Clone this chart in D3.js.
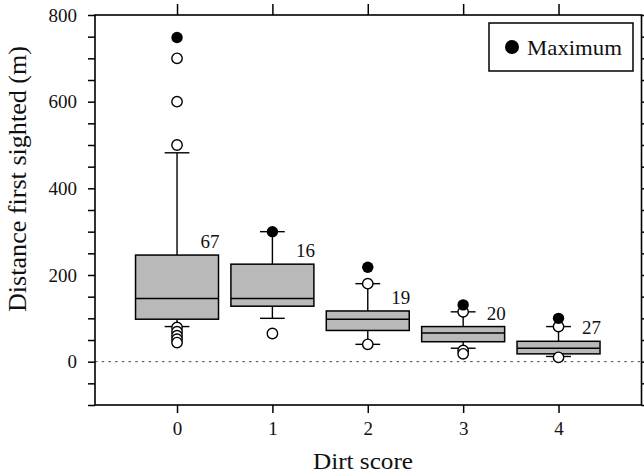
<!DOCTYPE html>
<html>
<head>
<meta charset="utf-8">
<script src="https://cdn.jsdelivr.net/npm/d3@7"></script>
<style>
  html, body { margin: 0; padding: 0; background: #fff; }
  svg { display: block; }
  text { font-family: "Liberation Serif", "Times New Roman", serif; fill: #111; }
</style>
</head>
<body>
<svg id="chart" width="644" height="475"></svg>
<script>
// ---- data ----
const categories  = [0, 1, 2, 3, 4];
const q1          = [98, 128, 72, 46, 18];
const medians     = [146, 146, 98, 66, 31];
const q3          = [246, 225, 117, 81, 47];
const whiskerLow  = [81, 100, 40, 31, 12];
const whiskerHigh = [482, 300, 180, 115, 81];
const outliers    = [
  [500, 600, 700, 79, 69, 60, 52, 44],
  [65],
  [180, 40],
  [115, 26, 18],
  [81, 10]
];
const maxima      = [748, 300, 218, 131, 100];
const sampleSizes = [67, 16, 19, 20, 27];
const yTickValues = [-100, -50, 0, 50, 100, 150, 200, 250, 300, 350, 400, 450, 500, 550, 600, 650, 700, 750, 800];
const yLabelValues = [0, 200, 400, 600, 800];
const xTitle = "Dirt score";
const yTitle = "Distance first sighted (m)";
const legendLabel = "Maximum";

// ---- layout ----
const svg = d3.select("#chart");
const L = 95, R = 641.5, T = 15, B = 405;
const x = d3.scaleLinear().domain([-0.86, 4.87]).range([L, R]);
const y = d3.scaleLinear().domain([-100, 800]).range([B, T]);
const boxHalf = 0.435;   // in category units
const capHalf = 0.13;

// zero reference line
svg.append("line")
  .attr("x1", L).attr("x2", R)
  .attr("y1", y(0)).attr("y2", y(0))
  .attr("stroke", "#444").attr("stroke-width", 1)
  .attr("stroke-dasharray", "2.5,4.2");

// boxes
const g = svg.append("g");
categories.forEach((c, i) => {
  const cx = x(c);
  // whiskers
  g.append("line").attr("x1", cx).attr("x2", cx)
    .attr("y1", y(q3[i])).attr("y2", y(whiskerHigh[i]))
    .attr("stroke", "#000").attr("stroke-width", 1.4);
  g.append("line").attr("x1", cx).attr("x2", cx)
    .attr("y1", y(q1[i])).attr("y2", y(whiskerLow[i]))
    .attr("stroke", "#000").attr("stroke-width", 1.4);
  // caps
  [whiskerHigh[i], whiskerLow[i]].forEach(v => {
    g.append("line")
      .attr("x1", x(c - capHalf)).attr("x2", x(c + capHalf))
      .attr("y1", y(v)).attr("y2", y(v))
      .attr("stroke", "#000").attr("stroke-width", 1.4);
  });
  // box
  g.append("rect")
    .attr("x", x(c - boxHalf)).attr("width", x(c + boxHalf) - x(c - boxHalf))
    .attr("y", y(q3[i])).attr("height", y(q1[i]) - y(q3[i]))
    .attr("fill", "#b9b9b9").attr("stroke", "#000").attr("stroke-width", 1.5);
  // median
  g.append("line")
    .attr("x1", x(c - boxHalf)).attr("x2", x(c + boxHalf))
    .attr("y1", y(medians[i])).attr("y2", y(medians[i]))
    .attr("stroke", "#000").attr("stroke-width", 1.5);
  // sample size
  g.append("text")
    .attr("x", cx + 33).attr("y", y(q3[i]) - 7)
    .attr("text-anchor", "middle")
    .style("font-size", "19px")
    .text(sampleSizes[i]);
});

// open circles (outliers)
categories.forEach((c, i) => {
  g.selectAll(null).data(outliers[i]).enter().append("circle")
    .attr("cx", x(c)).attr("cy", d => y(d)).attr("r", 5.2)
    .attr("fill", "#fff").attr("stroke", "#000").attr("stroke-width", 1.4);
});
// filled circles (maxima)
g.selectAll(".max").data(maxima).enter().append("circle")
  .attr("class", "max")
  .attr("cx", (d, i) => x(categories[i])).attr("cy", d => y(d)).attr("r", 5.7)
  .attr("fill", "#000");

// frame
svg.append("rect")
  .attr("x", L).attr("y", T).attr("width", R - L).attr("height", B - T)
  .attr("fill", "none").attr("stroke", "#000").attr("stroke-width", 1.6);

// axes
function styleAxis(sel) {
  sel.select(".domain").remove();
  sel.selectAll(".tick line").attr("stroke", "#000").attr("stroke-width", 1.5);
  sel.selectAll(".tick text").style("font-size", "19px").attr("fill", "#111")
    .style("font-family", '"Liberation Serif", serif');
}
svg.append("g").attr("transform", `translate(${L},0)`)
  .call(d3.axisLeft(y).tickValues(yTickValues).tickSize(7).tickPadding(11)
    .tickFormat(d => yLabelValues.includes(d) ? d : ""))
  .call(styleAxis);
svg.append("g").attr("transform", `translate(${R},0)`)
  .call(d3.axisRight(y).tickValues(yTickValues).tickSize(7).tickFormat(""))
  .call(styleAxis);
svg.append("g").attr("transform", `translate(0,${B})`)
  .call(d3.axisBottom(x).tickValues(categories).tickSize(8).tickPadding(8.5)
    .tickFormat(d3.format("d")))
  .call(styleAxis);
svg.append("g").attr("transform", `translate(0,${T})`)
  .call(d3.axisTop(x).tickValues(categories).tickSize(11).tickFormat(""))
  .call(styleAxis);

// titles
svg.append("text")
  .attr("x", 363).attr("y", 469)
  .attr("text-anchor", "middle")
  .attr("textLength", 100).attr("lengthAdjust", "spacingAndGlyphs")
  .style("font-size", "24px")
  .text(xTitle);
svg.append("text")
  .attr("transform", "translate(26,179) rotate(-90)")
  .attr("text-anchor", "middle")
  .attr("textLength", 266).attr("lengthAdjust", "spacingAndGlyphs")
  .style("font-size", "25px")
  .text(yTitle);

// legend
const lg = svg.append("g");
lg.append("rect").attr("x", 489).attr("y", 23).attr("width", 144).attr("height", 48)
  .attr("fill", "#fff").attr("stroke", "#000").attr("stroke-width", 1.5);
lg.append("circle").attr("cx", 512).attr("cy", 47).attr("r", 7).attr("fill", "#000");
lg.append("text").attr("x", 527).attr("y", 55).style("font-size", "22px")
  .attr("textLength", 95).attr("lengthAdjust", "spacingAndGlyphs")
  .text(legendLabel);
</script>
</body>
</html>
